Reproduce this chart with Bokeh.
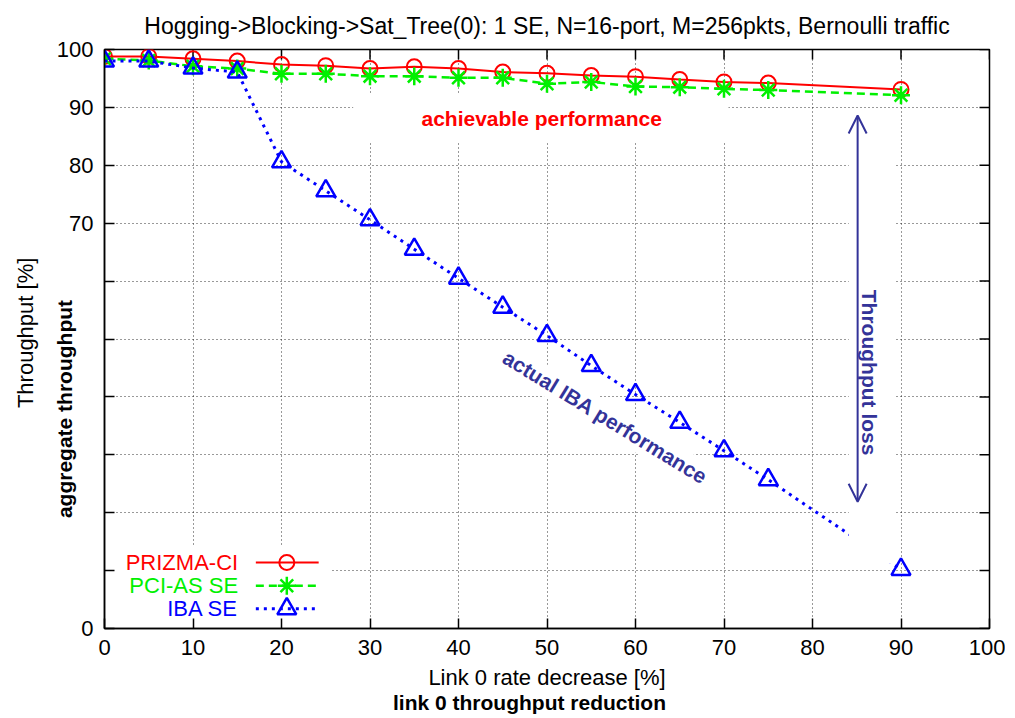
import math
from bokeh.plotting import figure
from bokeh.models import (Range1d, LinearAxis, FixedTicker, Label, BoxAnnotation,
                          Arrow, OpenHead)
from bokeh.embed import file_html
from bokeh.resources import INLINE
from bokeh.core.properties import value

# ---------------- data ----------------
x_vals = [0, 5, 10, 15, 20, 25, 30, 35, 40, 45, 50, 55, 60, 65, 70, 75, 90]
prizma = [98.8, 98.8, 98.4, 98.0, 97.4, 97.2, 96.7, 97.0, 96.7, 96.1, 95.9, 95.5,
          95.3, 94.8, 94.4, 94.2, 93.1]
pci_as = [98.4, 98.1, 97.1, 96.7, 95.8, 95.8, 95.4, 95.4, 95.1, 95.1, 94.1, 94.4,
          93.6, 93.5, 93.2, 93.0, 92.1]
iba = [98.0, 98.0, 96.8, 96.1, 80.6, 75.6, 70.6, 65.5, 60.5, 55.5, 50.6, 45.4,
       40.4, 35.6, 30.7, 25.7, 10.2]
series_names = ["PRIZMA-CI", "PCI-AS SE", "IBA SE"]
x_ticks = list(range(0, 101, 10))
y_ticks = list(range(0, 101, 10))
# y tick labels hidden behind the "aggregate throughput" box in the original
y_hidden_labels = [10, 20, 30, 40, 50, 60]

TITLE = "Hogging->Blocking->Sat_Tree(0): 1 SE, N=16-port, M=256pkts, Bernoulli traffic"
NB = "\u00a0"  # non-breaking space, used to shift labels off-centre as in the original
FONT = "Liberation Sans"
RED, GREEN, BLUE, NAVY = "#ff0000", "#00f000", "#0000ff", "#333399"

W, H = 1005, 716
p = figure(width=W, height=H, x_range=Range1d(0, 100), y_range=Range1d(0, 100),
           output_backend="svg", toolbar_location=None,
           min_border_left=104, min_border_right=16, min_border_top=49, min_border_bottom=86,
           background_fill_color="white", border_fill_color="white")

p.title.text = TITLE
p.title.align = "center"
p.title.vertical_align = "top"
p.title.text_font = FONT
p.title.text_font_size = "23px"
p.title.text_font_style = "normal"
p.title.text_color = "black"
p.title.standoff = 18

p.outline_line_color = "black"
p.outline_line_width = 1.5

for ax in (p.xaxis[0], p.yaxis[0]):
    ax.major_label_text_font = FONT
    ax.major_label_text_font_size = "22px"
    ax.major_label_text_color = "black"
    ax.major_tick_in = 10
    ax.major_tick_out = 0
    ax.minor_tick_line_color = None
    ax.major_tick_line_color = "black"
    ax.major_tick_line_width = 1.5
    ax.axis_line_color = "black"
    ax.axis_line_width = 1.5
    ax.axis_label_text_font = FONT
    ax.axis_label_text_color = "black"
    ax.major_label_standoff = 11

p.xaxis[0].ticker = FixedTicker(ticks=x_ticks)
p.yaxis[0].ticker = FixedTicker(ticks=y_ticks)
p.yaxis[0].major_label_overrides = {t: "" for t in y_hidden_labels}

p.xaxis[0].axis_label = "Link 0 rate decrease [%]"
p.xaxis[0].axis_label_text_font_size = "22px"
p.xaxis[0].axis_label_text_font_style = "normal"
p.xaxis[0].axis_label_standoff = 7

p.yaxis[0].axis_label = "aggregate throughput" + NB * 24
p.yaxis[0].axis_label_text_font_size = "21px"
p.yaxis[0].axis_label_text_font_style = "bold"
p.yaxis[0].axis_label_standoff = -22

# outer label-only axes
outer_left = LinearAxis(ticker=FixedTicker(ticks=[]), axis_line_color=None,
                        major_tick_line_color=None, minor_tick_line_color=None,
                        major_label_standoff=0, axis_label=NB * 2 + "Throughput [%]",
                        axis_label_text_font=FONT, axis_label_text_font_size="22px",
                        axis_label_text_font_style="normal", axis_label_text_color="black",
                        axis_label_standoff=12)
p.add_layout(outer_left, "left")
outer_below = LinearAxis(ticker=FixedTicker(ticks=[]), axis_line_color=None,
                         major_tick_line_color=None, minor_tick_line_color=None,
                         major_label_standoff=0,
                         axis_label="link 0 throughput reduction" + NB * 6,
                         axis_label_text_font=FONT, axis_label_text_font_size="21px",
                         axis_label_text_font_style="bold", axis_label_text_color="black",
                         axis_label_standoff=-2)
p.add_layout(outer_below, "below")

p.xgrid.ticker = FixedTicker(ticks=x_ticks)
p.ygrid.ticker = FixedTicker(ticks=y_ticks)
for g in (p.xgrid[0], p.ygrid[0]):
    g.grid_line_color = "black"
    g.grid_line_dash = "1 3"
    g.grid_line_width = 1
    g.grid_line_alpha = 0.8

# mirrored inward ticks on top and right edges (gnuplot style)
TICK_PX = 10
px_per_x = (W - 104 - 16) / 100.0
px_per_y = (H - 49 - 86) / 100.0
p.segment(x0=x_ticks, y0=[100] * len(x_ticks), x1=x_ticks,
          y1=[100 - TICK_PX / px_per_y] * len(x_ticks), line_color="black", line_width=1.5)
p.segment(x0=[100] * len(y_ticks), y0=y_ticks, x1=[100 - TICK_PX / px_per_x] * len(y_ticks),
          y1=y_ticks, line_color="black", line_width=1.5)

# white boxes behind labels (cover grid only)
p.add_layout(BoxAnnotation(left=28.1, right=70.5, bottom=84.0, top=92.3,
                           fill_color="white", fill_alpha=1, line_color=None,
                           level="underlay"))
p.add_layout(BoxAnnotation(left=1.3, right=25.5, bottom=1.4, top=14.1,
                           fill_color="white", fill_alpha=1, line_color=None,
                           level="underlay"))

# ---------------- series ----------------
p.line(x_vals, prizma, line_color=RED, line_width=2)
p.scatter(x_vals, prizma, marker="circle", size=15, fill_color=None,
          line_color=RED, line_width=2)
p.line(x_vals, pci_as, line_color=GREEN, line_width=2.5, line_dash="8 5")
p.scatter(x_vals, pci_as, marker="asterisk", size=18, line_color=GREEN, line_width=2.5)
p.line(x_vals, iba, line_color=BLUE, line_width=3, line_dash="3 5")
p.scatter(x_vals, iba, marker="triangle", size=19, fill_color=None,
          line_color=BLUE, line_width=2.5)

# ---------------- key (gnuplot style: text then sample) ----------------
key_y = [11.4, 7.4, 3.4]
key_colors = [RED, GREEN, BLUE]
p.text(x=[15.1] * 3, y=key_y, text=series_names, text_color=key_colors,
       text_align="right", text_baseline="middle", text_font=value(FONT),
       text_font_size="22px")
p.line([17.1, 24.2], [key_y[0]] * 2, line_color=RED, line_width=2)
p.scatter([20.6], [key_y[0]], marker="circle", size=15, fill_color=None,
          line_color=RED, line_width=2)
p.line([17.1, 24.2], [key_y[1]] * 2, line_color=GREEN, line_width=2.5, line_dash="8 5")
p.scatter([20.6], [key_y[1]], marker="asterisk", size=18, line_color=GREEN, line_width=2.5)
p.line([17.1, 24.2], [key_y[2]] * 2, line_color=BLUE, line_width=3, line_dash="3 5")
p.scatter([20.6], [key_y[2]], marker="triangle", size=19, fill_color=None,
          line_color=BLUE, line_width=2.5)

# ---------------- annotations ----------------
p.add_layout(Label(x=49.4, y=88.1, text="achievable performance", text_color=RED,
                   text_font=FONT, text_font_size="21px", text_font_style="bold",
                   text_align="center", text_baseline="middle"))

p.add_layout(Label(x=56.6, y=36.5, text="actual IBA performance", text_color=NAVY,
                   text_font=FONT, text_font_size="21px", text_font_style="bold",
                   text_align="center", text_baseline="middle", angle=-0.55,
                   background_fill_color="white", padding=3, level="underlay"))

p.add_layout(BoxAnnotation(left=84.1, right=89.4, bottom=11.2, top=89.5,
                           fill_color="white", fill_alpha=1, line_color=None))
p.add_layout(Arrow(x_start=85.1, y_start=21.9, x_end=85.1, y_end=88.6,
                   line_color=NAVY, line_width=2,
                   start=OpenHead(size=18, line_color=NAVY, line_width=2),
                   end=OpenHead(size=18, line_color=NAVY, line_width=2)))
p.add_layout(Label(x=86.4, y=44.2, text="Throughput loss", text_color=NAVY,
                   text_font=FONT, text_font_size="21px", text_font_style="bold",
                   text_align="center", text_baseline="middle", angle=-math.pi / 2))

open("out.html", "w").write(file_html(p, INLINE))
